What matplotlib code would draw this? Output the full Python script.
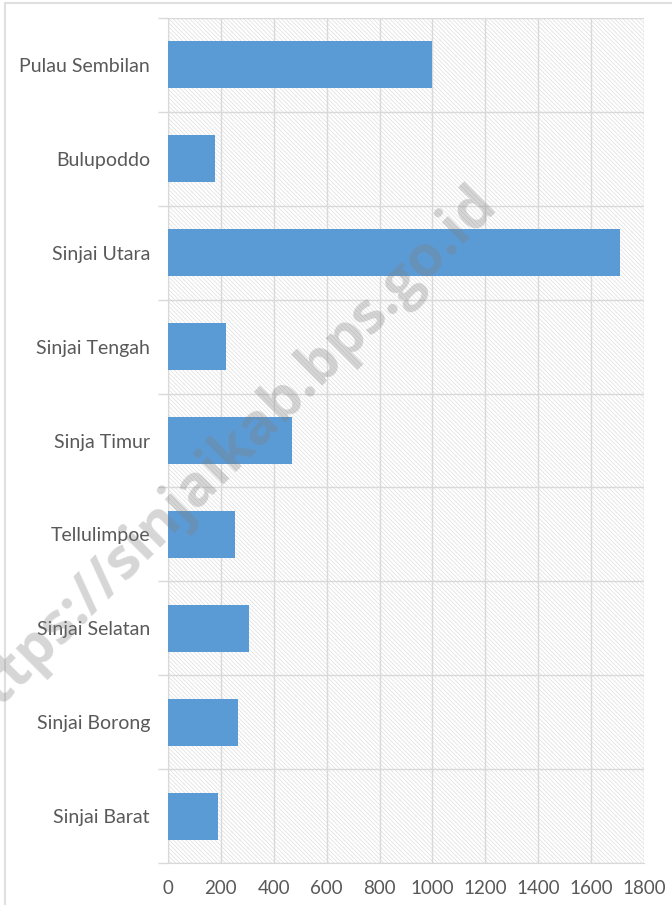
import numpy as np
import matplotlib.pyplot as plt
from matplotlib.patches import Rectangle

plt.rcParams['font.family'] = ['Lato', 'DejaVu Sans']
plt.rcParams['hatch.linewidth'] = 0.5

kecamatan = ["Pulau Sembilan", "Bulupoddo", "Sinjai Utara", "Sinjai Tengah",
             "Sinja Timur", "Tellulimpoe", "Sinjai Selatan", "Sinjai Borong",
             "Sinjai Barat"]
nilai = [1000, 176, 1708, 219, 468, 254, 305, 264, 189]
xticks = [0, 200, 400, 600, 800, 1000, 1200, 1400, 1600, 1800]

txt = '#595959'
grid = '#d9d9d9'

fig = plt.figure(figsize=(6.72, 9.05), dpi=100)
ax = fig.add_axes([168/672, 1 - 863/905, (644 - 168)/672, (863 - 18)/905])

# hatched plot area background
bg = Rectangle((0, 0), 1, 1, transform=ax.transAxes, facecolor='white',
               edgecolor='#dedede', hatch='\\' * 8, lw=0, zorder=0)
ax.add_patch(bg)

y = np.arange(len(kecamatan))
ax.barh(y, nilai, height=0.5, color='#5b9bd5', zorder=3)

ax.set_xlim(0, 1800)
ax.set_ylim(len(kecamatan) - 0.5, -0.5)
ax.set_xticks(xticks)
ax.set_xticklabels([str(v) for v in xticks])
ax.set_yticks(y)
ax.set_yticklabels(kecamatan)
ax.set_yticks(np.arange(len(kecamatan) + 1) - 0.5, minor=True)

ax.tick_params(axis='y', which='major', length=0, pad=13, labelsize=14, labelcolor=txt)
ax.tick_params(axis='y', which='minor', length=7, color=grid, width=1)
ax.tick_params(axis='x', length=0, pad=12, labelsize=13.5, labelcolor=txt)

ax.grid(axis='x', which='major', color=grid, lw=1, zorder=1)
ax.grid(axis='y', which='minor', color=grid, lw=1, zorder=1)
ax.set_axisbelow(True)
for s in ['top', 'right']:
    ax.spines[s].set_visible(False)
ax.spines['left'].set_color(grid)
ax.spines['bottom'].set_color(grid)

# watermark
fig.text(225/672, 1 - 458/905, "https://sinjaikab.bps.go.id", fontsize=41,
         fontweight='bold', color='#808080', alpha=0.32, rotation=45,
         ha='center', va='center', family='Open Sans', zorder=10)

# outer frame
fig.add_artist(Rectangle((5/672, -0.1), 1.2, 1 - 3/905 + 0.1, transform=fig.transFigure,
                         fill=False, edgecolor='#e0e0e0', lw=1.5))

fig.savefig('out.png', dpi=100)
